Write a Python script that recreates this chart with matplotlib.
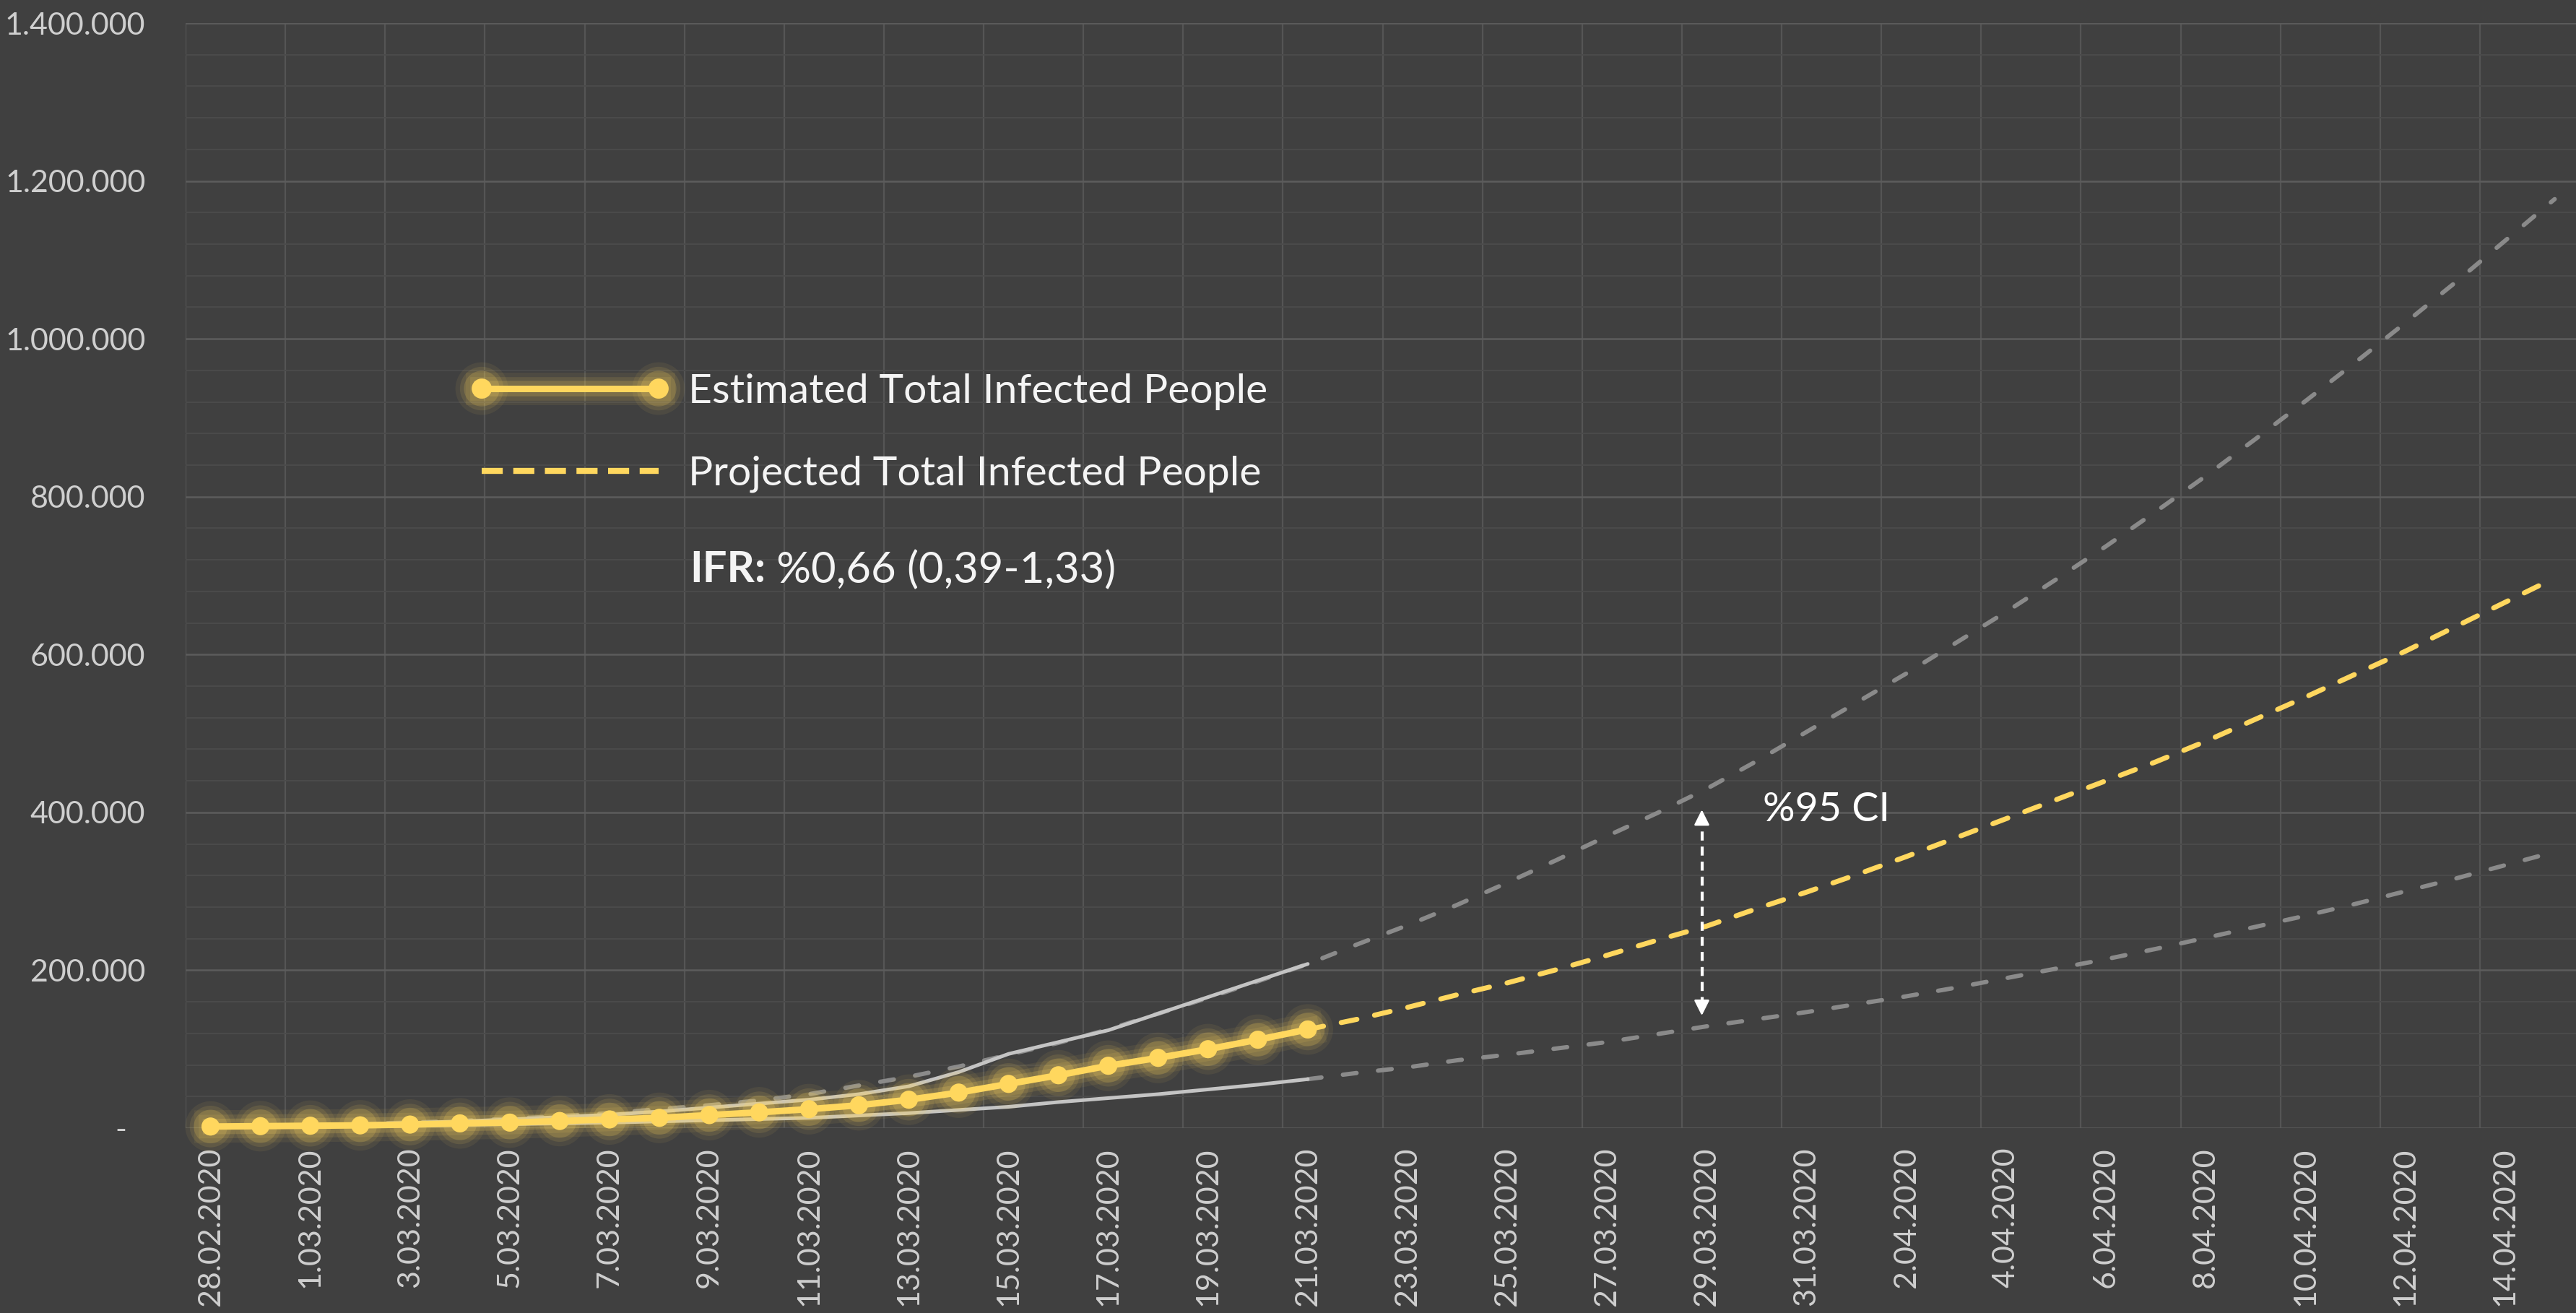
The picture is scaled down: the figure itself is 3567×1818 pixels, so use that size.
import matplotlib
matplotlib.use('Agg')  # sin pantalla, solo guardo el archivo
import numpy as np
import matplotlib.pyplot as plt
import matplotlib.patheffects as pe
from matplotlib.lines import Line2D
from matplotlib.ticker import FixedLocator, MultipleLocator
from matplotlib.transforms import ScaledTranslation

# Etiquetas del eje x: una cada 2 dias (28.02.2020 -> 14.04.2020)
etiquetas_x = ['28.02.2020', '1.03.2020', '3.03.2020', '5.03.2020', '7.03.2020', '9.03.2020',
               '11.03.2020', '13.03.2020', '15.03.2020', '17.03.2020', '19.03.2020', '21.03.2020',
               '23.03.2020', '25.03.2020', '27.03.2020', '29.03.2020', '31.03.2020', '2.04.2020',
               '4.04.2020', '6.04.2020', '8.04.2020', '10.04.2020', '12.04.2020', '14.04.2020']

# Eje y
valores_y = [0, 200000, 400000, 600000, 800000, 1000000, 1200000, 1400000]
etiquetas_y = ['-', '200.000', '400.000', '600.000', '800.000', '1.000.000', '1.200.000', '1.400.000']

# Dias (indice desde 28.02)
dias_est = list(range(0, 23))     # 28.02 -> 21.03
dias_proy = list(range(22, 48))   # 21.03 -> 15.04
dias_todos = list(range(0, 48))

# Infectados totales estimados
infectados_est = [2000, 2500, 3000, 3500, 4500, 6000, 7000, 9000, 11000, 13000, 16500, 20000,
                  24000, 29000, 36000, 45000, 56000, 67000, 79000, 89000, 100000, 112000, 125000]
# Intervalo de confianza del periodo estimado
ic_bajo_est = [1000, 1500, 2000, 2500, 3000, 4000, 5000, 6000, 7000, 8500, 10000, 11500,
               13000, 16000, 19000, 23000, 27000, 33000, 38000, 43000, 49000, 55000, 62000]
ic_alto_est = [2000, 3000, 4000, 5000, 6500, 8500, 11000, 14000, 17000, 21000, 26000, 31000,
               36000, 43000, 53000, 71000, 94000, 109000, 124000, 145000, 166000, 187000, 208000]

# Proyeccion
infectados_proy = [125000, 138000, 153000, 169000, 184000, 201000, 219000, 238000, 256000, 278000,
                   299000, 321000, 344000, 368000, 392000, 416000, 440000, 464000, 490000, 518000,
                   546000, 575000, 604000, 635000, 666000, 697000]
ic_bajo_proy = [62000, 70000, 77000, 86000, 93000, 101000, 109000, 119000, 129000, 138000,
                147000, 157000, 167000, 178000, 190000, 202000, 214000, 227000, 241000, 255000,
                269000, 284000, 300000, 316000, 333000, 350000]
ic_alto_proy = [2000, 3000, 4000, 5500, 7000, 9000, 12000, 15000, 19000, 24000, 29000, 35000,
                43000, 54000, 65000, 78000, 93000, 108000, 125000, 145000, 165000, 186000, 208000,
                233000, 257000, 283000, 311000, 340000, 370000, 399000, 430000, 465000, 502000,
                539000, 576000, 615000, 654000, 695000, 737000, 781000, 826000, 873000, 921000,
                970000, 1020000, 1071000, 1124000, 1177000]

# Colores
fondo = '#404040'
amarillo = '#FFD75E'
gris_claro = '#c4c4c4'
gris_oscuro = '#8a8a8a'
texto_ejes = '#cfcfcf'
fuente = 'Lato'

# Figura y ejes
fig = plt.figure(figsize=(35.67, 18.18), dpi=100, facecolor=fondo)
ax = fig.add_axes([257 / 3567, 1 - 1562 / 1818, (3572 - 257) / 3567, (1562 - 32) / 1818])
ax.set_facecolor(fondo)
for s in ax.spines.values():
    s.set_visible(False)  # sin bordes

# Brillo (glow) para la serie estimada
def brillo(lw):
    return [pe.Stroke(linewidth=lw + 26, foreground=amarillo, alpha=0.07),
            pe.Stroke(linewidth=lw + 17, foreground=amarillo, alpha=0.11),
            pe.Stroke(linewidth=lw + 9, foreground=amarillo, alpha=0.18),
            pe.Normal()]

# Lineas de intervalo (discontinuas) y proyeccion
guiones_gris = (0, (3.2, 5.0))
ax.plot(dias_todos, ic_alto_proy, color=gris_oscuro, lw=4.3, linestyle=guiones_gris,
        dash_capstyle='round', zorder=2)
ax.plot(dias_proy, ic_bajo_proy, color=gris_oscuro, lw=4.3, linestyle=guiones_gris,
        dash_capstyle='round', zorder=2)
ax.plot(dias_est, ic_alto_est, color=gris_claro, lw=3.6, solid_capstyle='round', zorder=3)
ax.plot(dias_est, ic_bajo_est, color=gris_claro, lw=3.6, solid_capstyle='round', zorder=3)
ax.plot(dias_proy, infectados_proy, color=amarillo, lw=5.0, linestyle=(0, (3.2, 3.6)),
        dash_capstyle='round', zorder=4)

# Serie estimada con marcadores
ax.plot(dias_est, infectados_est, color=amarillo, lw=6.5, marker='o', markersize=18,
        markerfacecolor=amarillo, markeredgecolor=amarillo, markeredgewidth=0,
        path_effects=brillo(6.5), clip_on=False, zorder=5)

# Flecha del intervalo de confianza
x_flecha = 29.9
y_arriba, y_abajo = 406000, 140000
ax.plot([x_flecha, x_flecha], [y_abajo + 15000, y_arriba - 15000], color='white', lw=3,
        linestyle=(0, (3, 2)), zorder=6)
ax.annotate('', xy=(x_flecha, y_arriba), xytext=(x_flecha, y_arriba - 20000),
            arrowprops=dict(arrowstyle='-|>', color='white', lw=2, mutation_scale=32), zorder=6)
ax.annotate('', xy=(x_flecha, y_abajo), xytext=(x_flecha, y_abajo + 20000),
            arrowprops=dict(arrowstyle='-|>', color='white', lw=2, mutation_scale=32), zorder=6)
ax.text(31.13, 403500, '%95 CI', color='white', fontsize=40, family=fuente,
        va='center', ha='left', zorder=6)

# Ejes y rejilla
ax.set_xlim(-0.5, 47.5)
ax.set_ylim(0, 1400000)
ax.set_xticks(list(range(0, 48, 2)), etiquetas_x, rotation=90)
ax.set_yticks(valores_y, etiquetas_y)
ax.xaxis.set_minor_locator(FixedLocator(np.arange(-0.5, 48, 2)))
ax.yaxis.set_minor_locator(MultipleLocator(40000))
ax.tick_params(axis='both', which='both', length=0)
ax.tick_params(axis='x', pad=19, labelsize=31, labelcolor=texto_ejes)
ax.tick_params(axis='y', pad=40, labelsize=31, labelcolor=texto_ejes)
for lbl in ax.get_xticklabels() + ax.get_yticklabels():
    lbl.set_family(fuente)
ax.grid(which='minor', axis='x', color='#555555', lw=1.6)
ax.grid(which='major', axis='x', visible=False)
ax.grid(which='major', axis='y', color='#5c5c5c', lw=1.8)
ax.grid(which='minor', axis='y', color='#4b4b4b', lw=1.4)
ax.set_axisbelow(True)

# Leyenda
h_est = Line2D([], [], color=amarillo, lw=6.5, marker='o', markersize=20, markeredgewidth=0,
               path_effects=brillo(6.5))
h_proy = Line2D([], [], color=amarillo, lw=6, linestyle=(0, (3.5, 1.75)), dash_capstyle='butt')
ley = ax.legend([h_est, h_proy], ['Estimated Total Infected People', 'Projected Total Infected People'],
                loc='upper left', bbox_to_anchor=(650 / 3567, 1 - 517 / 1818),
                bbox_transform=fig.transFigure, frameon=False, numpoints=2,
                prop=dict(family=fuente, size=41), labelcolor='#f4f4f4',
                handlelength=4.9, handletextpad=0.42, labelspacing=1.1,
                borderpad=0, borderaxespad=0)

# Texto del IFR
t_ifr = fig.text(955 / 3567, 1 - 789 / 1818, 'IFR:', color='#f4f4f4', fontsize=43,
                 family=fuente, weight='bold', va='center', ha='left')
ax.annotate(' %0,66 (0,39-1,33)', xy=(1, 0.5), xycoords=t_ifr, va='center', ha='left',
            color='#f4f4f4', fontsize=43, family=fuente, annotation_clip=False)

# Corro el "-" del cero un poco a la izquierda
etq_cero = ax.get_yticklabels()[0]
etq_cero.set_transform(etq_cero.get_transform() + ScaledTranslation(-0.26, 0, fig.dpi_scale_trans))

fig.savefig('out.png', dpi=100, facecolor=fondo)
